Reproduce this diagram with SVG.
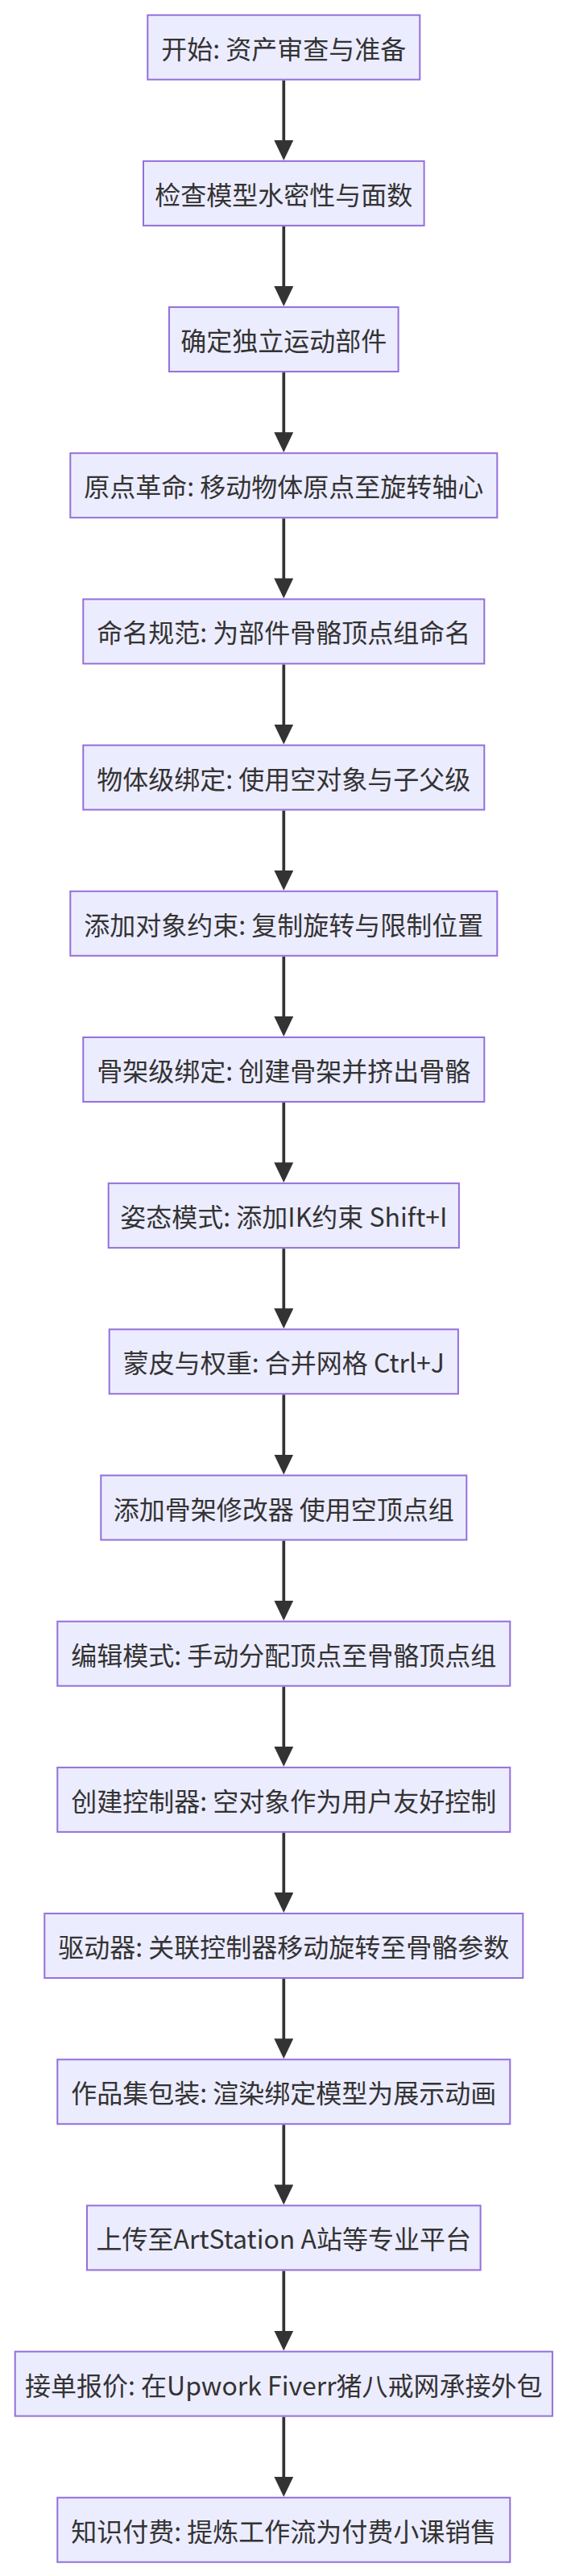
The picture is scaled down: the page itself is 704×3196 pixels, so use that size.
<svg xmlns="http://www.w3.org/2000/svg" width="704" height="3196" viewBox="0 0 704 3196">
<style>
.node rect{fill:#ECECFF;stroke:#9370DB;stroke-width:2}
.node text{font-family:"Noto Sans CJK SC","Noto Sans",sans-serif;font-size:32px;fill:#333333;text-anchor:middle;dominant-baseline:central}
.edge{stroke:#333333;stroke-width:3.7;fill:none}
</style>
<defs>
<marker id="arrow" viewBox="0 0 25 24" markerWidth="25" markerHeight="24" markerUnits="userSpaceOnUse" refX="15" refY="12" orient="auto">
<path d="M0,0 L25,12 L0,24 Z" fill="#333333"/>
</marker>
</defs>
<rect width="704" height="3196" fill="#ffffff"/>
<g id="connectors">
<line class="edge" x1="352.3" y1="99.7" x2="352.3" y2="188.88" marker-end="url(#arrow)"/>
<line class="edge" x1="352.3" y1="280.88" x2="352.3" y2="370.06" marker-end="url(#arrow)"/>
<line class="edge" x1="352.3" y1="462.06" x2="352.3" y2="551.24" marker-end="url(#arrow)"/>
<line class="edge" x1="352.3" y1="643.24" x2="352.3" y2="732.42" marker-end="url(#arrow)"/>
<line class="edge" x1="352.3" y1="824.42" x2="352.3" y2="913.6" marker-end="url(#arrow)"/>
<line class="edge" x1="352.3" y1="1005.6" x2="352.3" y2="1094.78" marker-end="url(#arrow)"/>
<line class="edge" x1="352.3" y1="1186.78" x2="352.3" y2="1275.96" marker-end="url(#arrow)"/>
<line class="edge" x1="352.3" y1="1367.96" x2="352.3" y2="1457.14" marker-end="url(#arrow)"/>
<line class="edge" x1="352.3" y1="1549.14" x2="352.3" y2="1638.32" marker-end="url(#arrow)"/>
<line class="edge" x1="352.3" y1="1730.32" x2="352.3" y2="1819.5" marker-end="url(#arrow)"/>
<line class="edge" x1="352.3" y1="1911.5" x2="352.3" y2="2000.68" marker-end="url(#arrow)"/>
<line class="edge" x1="352.3" y1="2092.68" x2="352.3" y2="2181.86" marker-end="url(#arrow)"/>
<line class="edge" x1="352.3" y1="2273.86" x2="352.3" y2="2363.04" marker-end="url(#arrow)"/>
<line class="edge" x1="352.3" y1="2455.04" x2="352.3" y2="2544.22" marker-end="url(#arrow)"/>
<line class="edge" x1="352.3" y1="2636.22" x2="352.3" y2="2725.4" marker-end="url(#arrow)"/>
<line class="edge" x1="352.3" y1="2817.4" x2="352.3" y2="2906.58" marker-end="url(#arrow)"/>
<line class="edge" x1="352.3" y1="2998.58" x2="352.3" y2="3087.76" marker-end="url(#arrow)"/>
</g>
<g id="n1" class="node"><rect x="183.3" y="18.7" width="338" height="80"/><text x="352.3" y="58.7">开始: 资产审查与准备</text></g>
<g id="n2" class="node"><rect x="178" y="199.88" width="348.6" height="80"/><text x="352.3" y="239.88">检查模型水密性与面数</text></g>
<g id="n3" class="node"><rect x="210" y="381.06" width="284.6" height="80"/><text x="352.3" y="421.06">确定独立运动部件</text></g>
<g id="n4" class="node"><rect x="87.3" y="562.24" width="530" height="80"/><text x="352.3" y="602.24">原点革命: 移动物体原点至旋转轴心</text></g>
<g id="n5" class="node"><rect x="103.3" y="743.42" width="498" height="80"/><text x="352.3" y="783.42">命名规范: 为部件骨骼顶点组命名</text></g>
<g id="n6" class="node"><rect x="103.3" y="924.6" width="498" height="80"/><text x="352.3" y="964.6">物体级绑定: 使用空对象与子父级</text></g>
<g id="n7" class="node"><rect x="87.3" y="1105.78" width="530" height="80"/><text x="352.3" y="1145.78">添加对象约束: 复制旋转与限制位置</text></g>
<g id="n8" class="node"><rect x="103.3" y="1286.96" width="498" height="80"/><text x="352.3" y="1326.96">骨架级绑定: 创建骨架并挤出骨骼</text></g>
<g id="n9" class="node"><rect x="134.7" y="1468.14" width="435.2" height="80"/><text x="352.3" y="1508.14">姿态模式: 添加IK约束 Shift+I</text></g>
<g id="n10" class="node"><rect x="135.7" y="1649.32" width="433.2" height="80"/><text x="352.3" y="1689.32">蒙皮与权重: 合并网格 Ctrl+J</text></g>
<g id="n11" class="node"><rect x="125.3" y="1830.5" width="454" height="80"/><text x="352.3" y="1870.5">添加骨架修改器 使用空顶点组</text></g>
<g id="n12" class="node"><rect x="71.3" y="2011.68" width="562" height="80"/><text x="352.3" y="2051.68">编辑模式: 手动分配顶点至骨骼顶点组</text></g>
<g id="n13" class="node"><rect x="71.3" y="2192.86" width="562" height="80"/><text x="352.3" y="2232.86">创建控制器: 空对象作为用户友好控制</text></g>
<g id="n14" class="node"><rect x="55.3" y="2374.04" width="594" height="80"/><text x="352.3" y="2414.04">驱动器: 关联控制器移动旋转至骨骼参数</text></g>
<g id="n15" class="node"><rect x="71.3" y="2555.22" width="562" height="80"/><text x="352.3" y="2595.22">作品集包装: 渲染绑定模型为展示动画</text></g>
<g id="n16" class="node"><rect x="108" y="2736.4" width="488.6" height="80"/><text x="352.3" y="2776.4">上传至ArtStation A站等专业平台</text></g>
<g id="n17" class="node"><rect x="18.7" y="2917.58" width="667.2" height="80"/><text x="352.3" y="2957.58">接单报价: 在Upwork Fiverr猪八戒网承接外包</text></g>
<g id="n18" class="node"><rect x="71.3" y="3098.76" width="562" height="80"/><text x="352.3" y="3138.76">知识付费: 提炼工作流为付费小课销售</text></g>
</svg>
